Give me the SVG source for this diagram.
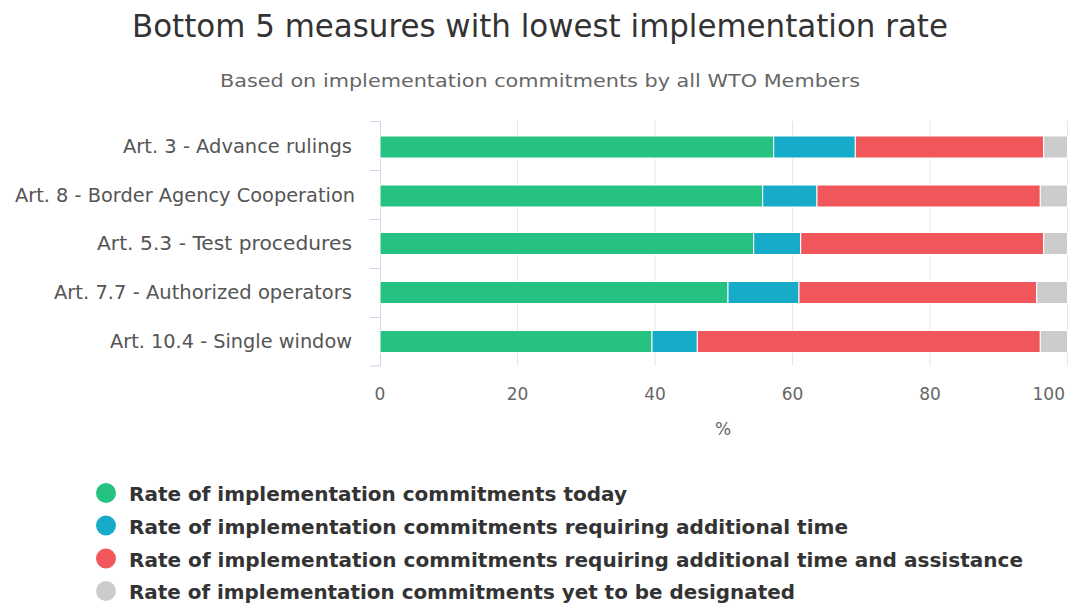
<svg xmlns="http://www.w3.org/2000/svg" width="1076" height="606" viewBox="0 0 1076 606">
<style>
.title{font-family:"DejaVu Sans",sans-serif;font-size:32px;fill:#333}
.sub{font-family:"DejaVu Sans",sans-serif;font-size:17px;fill:#666}
.cat{font-family:"DejaVu Sans",sans-serif;font-size:19px;fill:#555;text-anchor:end}
.tick{font-family:"DejaVu Sans",sans-serif;font-size:17px;fill:#666;text-anchor:middle}
.leg{font-family:"DejaVu Sans",sans-serif;font-size:20px;font-weight:bold;fill:#333}
.grid{stroke:#e6e6e6;stroke-width:1}
.axis{stroke:#ccd6eb;stroke-width:1;fill:none}
.g{fill:#26c281}.b{fill:#16acc9}.r{fill:#f1565a}.y{fill:#cccccc}
.bar rect{stroke:#fff;stroke-width:1}
</style>
<rect width="1076" height="606" fill="#fff"/>
<text class="title" x="540" y="37" text-anchor="middle" textLength="816" lengthAdjust="spacingAndGlyphs">Bottom 5 measures with lowest implementation rate</text>
<text class="sub" x="540" y="87" text-anchor="middle" textLength="640" lengthAdjust="spacingAndGlyphs">Based on implementation commitments by all WTO Members</text>

<g id="grid">
<line class="grid" x1="517.5" y1="121" x2="517.5" y2="366"/>
<line class="grid" x1="655" y1="121" x2="655" y2="366"/>
<line class="grid" x1="792.5" y1="121" x2="792.5" y2="366"/>
<line class="grid" x1="930" y1="121" x2="930" y2="366"/>
<line class="grid" x1="1067.5" y1="121" x2="1067.5" y2="366"/>
</g>
<g id="axis">
<path class="axis" d="M380.5 121V366M370 121.5H380.5M370 170.5H380.5M370 219.5H380.5M370 268.5H380.5M370 317.5H380.5M370 366H380.5"/>
</g>

<g id="labels">
<text class="cat" x="352" y="153" textLength="229" lengthAdjust="spacingAndGlyphs">Art. 3 - Advance rulings</text>
<text class="cat" x="355" y="202" textLength="340" lengthAdjust="spacingAndGlyphs">Art. 8 - Border Agency Cooperation</text>
<text class="cat" x="352" y="250" textLength="255" lengthAdjust="spacingAndGlyphs">Art. 5.3 - Test procedures</text>
<text class="cat" x="352" y="299" textLength="298" lengthAdjust="spacingAndGlyphs">Art. 7.7 - Authorized operators</text>
<text class="cat" x="352" y="348" textLength="242" lengthAdjust="spacingAndGlyphs">Art. 10.4 - Single window</text>
</g>

<g id="bars" class="bar">
<g id="bar1">
<rect class="g" x="380" y="136" width="393.7" height="22"/>
<rect class="b" x="773.7" y="136" width="81.6" height="22"/>
<rect class="r" x="855.3" y="136" width="188.4" height="22"/>
<rect class="y" x="1043.7" y="136" width="23.8" height="22"/>
</g>
<g id="bar2">
<rect class="g" x="380" y="185" width="382.7" height="22"/>
<rect class="b" x="762.7" y="185" width="54.3" height="22"/>
<rect class="r" x="817" y="185" width="223.3" height="22"/>
<rect class="y" x="1040.3" y="185" width="27.2" height="22"/>
</g>
<g id="bar3">
<rect class="g" x="380" y="232.5" width="373.7" height="22"/>
<rect class="b" x="753.7" y="232.5" width="47" height="22"/>
<rect class="r" x="800.7" y="232.5" width="243" height="22"/>
<rect class="y" x="1043.7" y="232.5" width="23.8" height="22"/>
</g>
<g id="bar4">
<rect class="g" x="380" y="281.5" width="348" height="22"/>
<rect class="b" x="728" y="281.5" width="71" height="22"/>
<rect class="r" x="799" y="281.5" width="237.7" height="22"/>
<rect class="y" x="1036.7" y="281.5" width="30.8" height="22"/>
</g>
<g id="bar5">
<rect class="g" x="380" y="330.5" width="272" height="22"/>
<rect class="b" x="652" y="330.5" width="45.3" height="22"/>
<rect class="r" x="697.3" y="330.5" width="343" height="22"/>
<rect class="y" x="1040.3" y="330.5" width="27.2" height="22"/>
</g>
</g>

<g id="xaxis">
<text class="tick" x="380" y="400">0</text>
<text class="tick" x="517.5" y="400">20</text>
<text class="tick" x="655" y="400">40</text>
<text class="tick" x="792.5" y="400">60</text>
<text class="tick" x="930" y="400">80</text>
<text class="tick" x="1065" y="400" style="text-anchor:end">100</text>
<text class="tick" x="723" y="435">%</text>
</g>

<g id="legend">
<circle class="g" cx="106" cy="493" r="10"/>
<text class="leg" x="129" y="501" textLength="498" lengthAdjust="spacingAndGlyphs">Rate of implementation commitments today</text>
<circle class="b" cx="106" cy="525.5" r="10"/>
<text class="leg" x="129" y="533.5" textLength="719" lengthAdjust="spacingAndGlyphs">Rate of implementation commitments requiring additional time</text>
<circle class="r" cx="106" cy="558.5" r="10"/>
<text class="leg" x="129" y="566.5" textLength="894" lengthAdjust="spacingAndGlyphs">Rate of implementation commitments requiring additional time and assistance</text>
<circle class="y" cx="106" cy="591" r="10"/>
<text class="leg" x="129" y="599" textLength="666" lengthAdjust="spacingAndGlyphs">Rate of implementation commitments yet to be designated</text>
</g>
</svg>
